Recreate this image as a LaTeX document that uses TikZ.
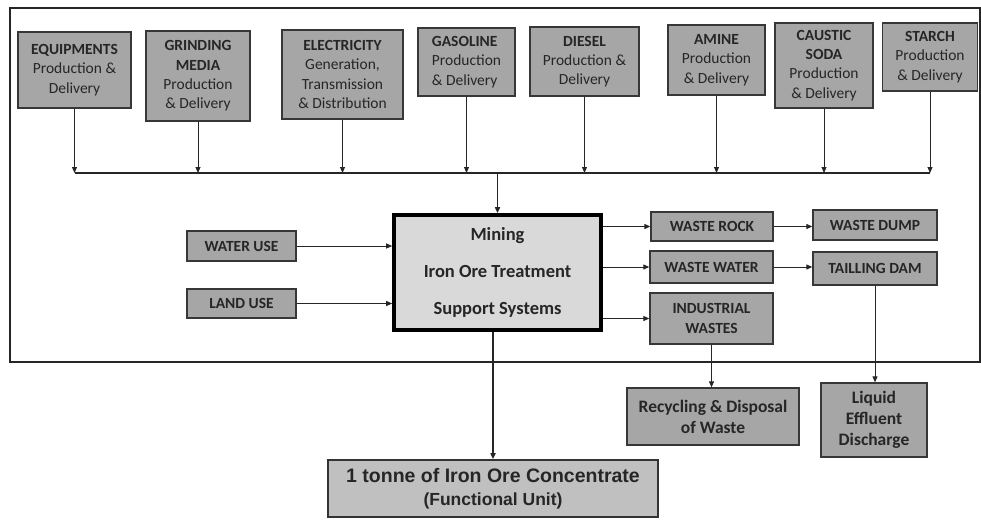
\documentclass[tikz,border=0pt]{standalone}
\usepackage{fontspec}
\setmainfont{Carlito}
\newfontfamily\arialfont{Liberation Sans}
\usetikzlibrary{positioning, arrows.meta}
\definecolor{boxgray}{RGB}{166,166,166}
\definecolor{maingray}{RGB}{217,217,217}
\definecolor{unitgray}{RGB}{192,192,192}
\definecolor{edgegray}{RGB}{55,55,55}
\tikzset{
    x=1pt, y=-1pt, % pixel-like coordinates
    >={Triangle[length=6pt, width=5pt]}, % small filled heads
    box/.style={draw=edgegray, line width=1.3pt, fill=boxgray, align=center,
        inner sep=1pt, font=\fontsize{15.5}{19.3}\selectfont, text=black!85},
    label box/.style={box, font=\fontsize{15.5}{18}\selectfont\bfseries},
    mainbox/.style={draw=black, line width=3.6pt, fill=maingray, align=center,
        font=\fontsize{18.5}{37}\selectfont\bfseries, text=black!85},
    unitbox/.style={draw=black!80, line width=1.6pt, fill=unitgray, align=center,
        font=\arialfont\bfseries\fontsize{19.5}{23}\selectfont, text=black!85},
    link/.style={->, line width=1pt, black!85},
}

\begin{document}
\begin{tikzpicture}
    \useasboundingbox (0,0) rectangle (981,519);

    % system boundary
    \draw[line width=2pt, black!85] (10,8) rectangle (980,362);

    % upstream supply chains
    \node[box, minimum width=113, minimum height=76] (EQUIP) at (74.5,70)
        {\textbf{EQUIPMENTS}\\Production \&\\Delivery};
    \node[box, minimum width=104, minimum height=90] (GRIND) at (198,76)
        {\textbf{GRINDING}\\\textbf{MEDIA}\\Production\\\& Delivery};
    \node[box, minimum width=121, minimum height=89] (ELEC) at (342.5,74.5)
        {\textbf{ELECTRICITY}\\Generation,\\Transmission\\\& Distribution};
    \node[box, align=left, minimum width=97, minimum height=68] (GASO) at (466.5,62)
        {\textbf{GASOLINE}\\Production\\\& Delivery};
    \node[box, minimum width=109, minimum height=69] (DIESEL) at (584.5,61.5)
        {\textbf{DIESEL}\\Production \&\\Delivery};
    \node[box, minimum width=97, minimum height=70] (AMINE) at (716.5,60)
        {\textbf{AMINE}\\Production\\\& Delivery};
    \node[box, minimum width=98, minimum height=85] (SODA) at (824,65.5)
        {\textbf{CAUSTIC}\\\textbf{SODA}\\Production\\\& Delivery};
    \node[box, minimum width=95, minimum height=68] (STARCH) at (930,57)
        {\textbf{STARCH}\\Production\\\& Delivery};

    % collecting line
    \coordinate (BUSL) at (74.5,173);
    \coordinate (BUSR) at (930,173);
    \draw[line width=2pt, black!85] (BUSL) -- (BUSR);
    \foreach \src in {EQUIP, GRIND, ELEC, GASO, DIESEL, AMINE, SODA, STARCH}
        \draw[link] (\src.south) -- (\src.south |- BUSL);

    % central process
    \node[mainbox, minimum width=207, minimum height=115] (MAIN) at (497.5,272.5)
        {Mining\\Iron Ore Treatment\\Support Systems};
    \draw[link, line width=1.6pt] (MAIN.north |- BUSL) -- (MAIN.north);

    % resources
    \node[label box, minimum width=109, minimum height=30] (WATER) at (241.5,246) {WATER USE};
    \node[label box, minimum width=109, minimum height=29] (LAND) at (241.5,303.5) {LAND USE};
    \draw[link] (WATER.east) -- (WATER.east -| MAIN.west);
    \draw[link] (LAND.east) -- (LAND.east -| MAIN.west);

    % outputs
    \node[label box, minimum width=122, minimum height=29] (ROCK) at (712,226.5) {WASTE ROCK};
    \node[label box, minimum width=124, minimum height=30] (DUMP) at (875,225) {WASTE DUMP};
    \node[label box, minimum width=123, minimum height=32] (WWATER) at (711.5,267) {WASTE WATER};
    \node[label box, minimum width=124, minimum height=33] (DAM) at (875,268.5) {TAILLING DAM};
    \node[label box, font=\fontsize{15.5}{20}\selectfont\bfseries, minimum width=123, minimum height=51] (INDW) at (711.5,318.5) {INDUSTRIAL\\WASTES};
    \node[label box, font=\fontsize{17.5}{21}\selectfont\bfseries, minimum width=172, minimum height=57] (RECYCLE) at (713,416.5) {Recycling \& Disposal\\of Waste};
    \node[label box, font=\fontsize{17.5}{21}\selectfont\bfseries, minimum width=106, minimum height=74] (EFFL) at (874,420) {Liquid\\Effluent\\Discharge};

    \draw[link] (ROCK.west -| MAIN.east) -- (ROCK.west);
    \draw[link] (WWATER.west -| MAIN.east) -- (WWATER.west);
    \draw[link] (INDW.west -| MAIN.east) -- (INDW.west);
    \draw[link] (ROCK.east) -- (ROCK.east -| DUMP.west);
    \draw[link] (WWATER.east) -- (WWATER.east -| DAM.west);
    \draw[link] (INDW.south) -- (INDW.south |- RECYCLE.north);
    \draw[link] (DAM.south) -- (DAM.south |- EFFL.north);

    % functional unit
    \node[unitbox, minimum width=330, minimum height=57] (UNIT) at (493,488.5)
        {1 tonne of Iron Ore Concentrate\\\fontsize{17.5}{23}\selectfont (Functional Unit)};
    \draw[link, line width=1.6pt] (UNIT.north |- MAIN.south) -- (UNIT.north);
\end{tikzpicture}
\end{document}
